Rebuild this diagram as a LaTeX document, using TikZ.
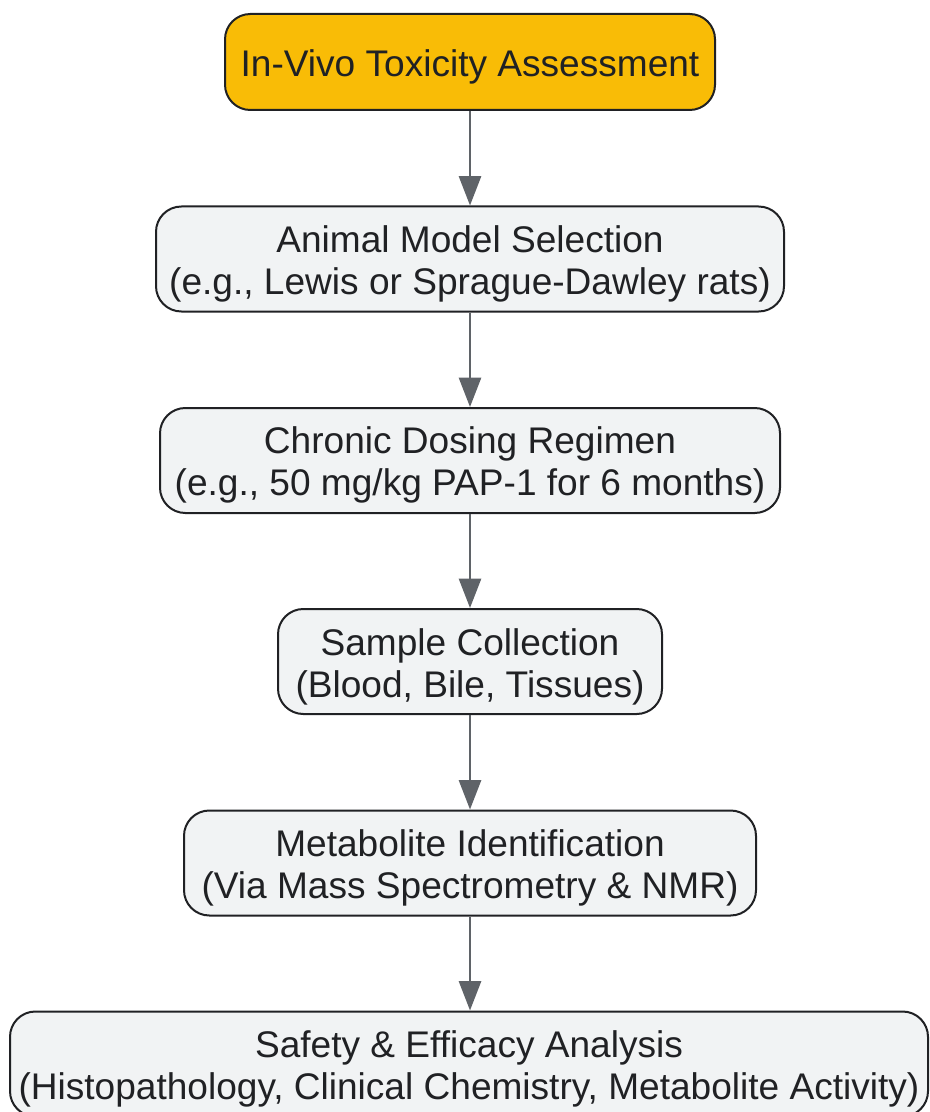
\documentclass[tikz,border=0pt]{standalone}
\usepackage{fontspec}
\setmainfont{Liberation Sans}
\usepackage{xcolor}
\usetikzlibrary{positioning, arrows.meta}

\definecolor{boxfill}{HTML}{F1F3F4}
\definecolor{boxline}{HTML}{202124}
\definecolor{startfill}{HTML}{F9BC06}
\definecolor{arrowgrey}{HTML}{5F6368}

% pushes the first line of a stage a little down
\newcommand{\padtop}{\rule{0pt}{27.5pt}}

\begin{document}
\begin{tikzpicture}[
        x=0.75pt, y=-0.75pt,
        stage/.style={rectangle, rounded corners=19pt, draw=boxline, line width=1.5pt,
            fill=boxfill, text=boxline, align=center, inner sep=0pt,
            font=\fontsize{27.8}{31.5}\selectfont, minimum height=78.75pt},
        start/.style={stage, fill=startfill, minimum height=72pt},
        flow/.style={-{Triangle[length=22pt, width=16.5pt]}, draw=arrowgrey, line width=2pt}
    ]
        \useasboundingbox (0,0) rectangle (929,1112);
        \clip (0,0) rectangle (929,1112);

        \node[start, minimum width=367.5pt] (assess) at (470,62) {\padtop In-Vivo Toxicity Assessment};
        \node[stage, minimum width=471pt] (model) at (470,259)
            {\padtop Animal Model Selection\\(e.g., Lewis or Sprague-Dawley rats)};
        \node[stage, minimum width=465pt] (dosing) at (470,460.5)
            {\padtop Chronic Dosing Regimen\\(e.g., 50 mg/kg PAP-1 for 6 months)};
        \node[stage, minimum width=288pt] (sample) at (470,661.5)
            {\padtop Sample Collection\\(Blood, Bile, Tissues)};
        \node[stage, minimum width=429pt] (metab) at (470,863)
            {\padtop Metabolite Identification\\(Via Mass Spectrometry \& NMR)};
        \node[stage, minimum width=688.5pt] (safety) at (469,1064)
            {\padtop Safety \& Efficacy Analysis\\(Histopathology, Clinical Chemistry, Metabolite Activity)};

        % Flow from one stage to the next
        \draw[flow] (assess) -- (model);
        \draw[flow] (model) -- (dosing);
        \draw[flow] (dosing) -- (sample);
        \draw[flow] (sample) -- (metab);
        \draw[flow] (metab) -- (metab |- safety.north);
    \end{tikzpicture}
\end{document}
